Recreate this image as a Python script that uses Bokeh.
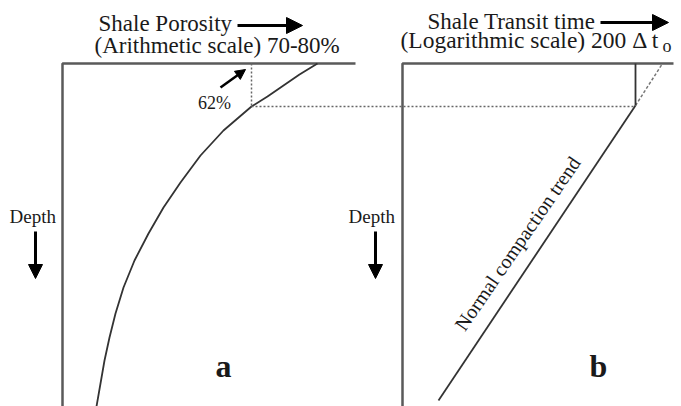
from bokeh.plotting import figure
from bokeh.models import Range1d, Arrow, NormalHead
from bokeh.core.properties import value
from bokeh.embed import file_html
from bokeh.resources import INLINE

# Schematic diagram: shale porosity (arithmetic) and shale transit time (log) vs depth.
# Coordinates are in drawing units (x to the right, depth downward).

# Panel a: porosity-depth compaction curve
poro_x = [317, 299, 283, 267, 251, 237, 223, 200, 180, 163, 148, 134, 123, 115, 109, 104, 100, 96]
poro_depth = [63, 74, 85, 96, 106, 118, 130, 155, 182, 207, 233, 260, 287, 313, 337, 360, 383, 406]

# Panel a frame
frame_a_x = [62, 62, 355]
frame_a_y = [406, 63, 63]

# Panel b frame
frame_b_x = [402, 402, 673]
frame_b_y = [406, 63, 63]

# Panel b: normal compaction trend (straight on log scale)
trend_x = [635, 438]
trend_depth = [105, 400]
trend_ext_x = [635, 662]
trend_ext_depth = [105, 63]
observed_x = [635, 635]
observed_depth = [63, 105]

# Reading guides at the 62% level
guide_v_x = [251, 251]
guide_v_y = [63, 106]
guide_h_x = [251, 635]
guide_h_y = [106, 106]

SERIF = value("Liberation Serif")
INK = "#1a1a1a"
FRAME = "#5a5a5a"

p = figure(width=681, height=406, x_range=Range1d(0, 681), y_range=Range1d(406, 0),
           output_backend="svg", toolbar_location=None, min_border=0)
p.axis.visible = False
p.grid.visible = False
p.outline_line_color = None
p.background_fill_color = "white"
p.border_fill_color = "white"

# frames
p.line(frame_a_x, frame_a_y, line_color=FRAME, line_width=2.5)
p.line(frame_b_x, frame_b_y, line_color=FRAME, line_width=2.5)

# curves
p.line(poro_x, poro_depth, line_color="#333333", line_width=1.8, line_join="round")
p.line(trend_x, trend_depth, line_color="#333333", line_width=1.8)
p.line(trend_ext_x, trend_ext_depth, line_color="#777777", line_width=1.5, line_dash="3 2")
p.line(observed_x, observed_depth, line_color="#333333", line_width=1.8)

# guides
p.line(guide_v_x, guide_v_y, line_color="#666666", line_width=1.5, line_dash="2 2")
p.line(guide_h_x, guide_h_y, line_color="#666666", line_width=1.5, line_dash="2 2")

def label(x, y, s, size, align="left", **kw):
    p.text(x=[x], y=[y], text=[s], text_font=SERIF, text_font_size=size,
           text_color=INK, text_align=align, text_baseline="middle", **kw)

# titles
label(98, 22.5, "Shale Porosity", "23px")
label(94, 44.5, "(Arithmetic scale) 70-80%", "23px")
label(427, 20.5, "Shale Transit time", "23px")
label(400, 39.5, "(Logarithmic scale) 200 \u0394 t", "23.5px")
label(662, 45, "o", "18px")

# title arrows
for x0, x1, yy in [(237, 302, 25), (600, 668, 22)]:
    p.add_layout(Arrow(end=NormalHead(size=16, fill_color="black", line_color="black"),
                       x_start=x0, y_start=yy, x_end=x1, y_end=yy,
                       line_width=3, line_color="black"))

# 62% marker
label(214, 102, "62%", "18px", align="center")
p.add_layout(Arrow(end=NormalHead(size=10, fill_color="black", line_color="black"),
                   x_start=220, y_start=87, x_end=245, y_end=69,
                   line_width=2.5, line_color="black"))

# depth labels and arrows
for xl, xa in [(9, 35), (348, 375)]:
    label(xl, 215.5, "Depth", "19px")
    p.add_layout(Arrow(end=NormalHead(size=14, fill_color="black", line_color="black"),
                       x_start=xa, y_start=231, x_end=xa, y_end=278,
                       line_width=3, line_color="black"))

# trend label
label(517, 243, "Normal compaction trend", "20px", align="center",
      angle=55.5, angle_units="deg")

# panel letters
label(223, 365, "a", "32px", align="center", text_font_style="bold")
label(598, 365, "b", "32px", align="center", text_font_style="bold")

open("out.html", "w").write(file_html(p, INLINE))
